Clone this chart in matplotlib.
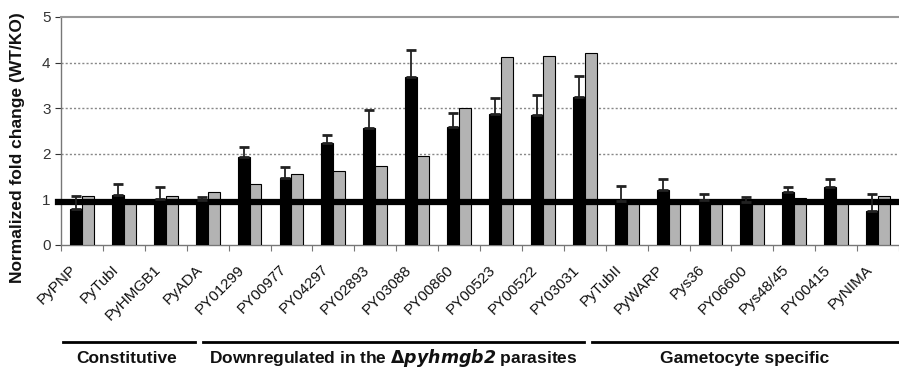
import matplotlib
matplotlib.use("Agg")
import matplotlib.pyplot as plt
import numpy as np

plt.rcParams['font.family'] = ['Liberation Sans', 'DejaVu Sans']

genes = ["PyPNP", "PyTubI", "PyHMGB1", "PyADA", "PY01299", "PY00977", "PY04297",
         "PY02893", "PY03088", "PY00860", "PY00523", "PY00522", "PY03031",
         "PyTubII", "PyWARP", "Pys36", "PY06600", "Pys48/45", "PY00415", "PyNIMA"]
black_vals = [0.80, 1.10, 1.01, 0.99, 1.94, 1.48, 2.23, 2.57, 3.68, 2.59, 2.88, 2.85, 3.25,
              0.96, 1.21, 0.98, 0.95, 1.16, 1.27, 0.75]
black_err = [0.27, 0.23, 0.27, 0.06, 0.22, 0.23, 0.19, 0.38, 0.60, 0.31, 0.34, 0.45, 0.46,
             0.33, 0.24, 0.14, 0.10, 0.12, 0.18, 0.37]
gray_vals = [1.08, 0.93, 1.07, 1.16, 1.33, 1.56, 1.62, 1.73, 1.96, 3.01, 4.12, 4.14, 4.21,
             0.93, 0.93, 0.93, 0.93, 1.02, 0.93, 1.08]
groups = ["Constitutive", "Downregulated in the $\\mathbf{\\Delta}$$\\bfit{pyhmgb2}$ parasites",
          "Gametocyte specific"]
group_spans = [(-0.45, 2.70), (2.89, 11.98), (12.17, 19.6)]
group_centers = [1.07, 7.42, 15.82]
baseline = 0.95

fig = plt.figure(figsize=(8.99, 3.69), dpi=100)
ax = fig.add_axes([61/899, 124/369, (899-61)/899, 228/369])

x = np.arange(len(genes))
w = 0.285
ax.bar(x - w/2, black_vals, w, color='black', edgecolor='black', linewidth=0.8, zorder=3)
ax.bar(x + w/2, gray_vals, w, color='#b3b3b3', edgecolor='black', linewidth=0.8, zorder=3)
ax.axhline(baseline, color='black', lw=4.5, zorder=4, clip_on=False, xmin=-0.004)
ax.errorbar(x - w/2, black_vals, yerr=[np.zeros(len(black_err)), black_err], fmt='none',
            ecolor='#222222', elinewidth=1.3, capsize=3.5, capthick=2, zorder=5)

ax.set_xlim(-0.5, 19.38)
ax.set_ylim(0, 5)
ax.set_yticks([0, 1, 2, 3, 4, 5])
ax.tick_params(axis='y', labelsize=11, colors='#333333', length=4, width=0.8, direction='out')
for g in [2, 3, 4]:
    ax.axhline(g, color='#888888', lw=1.0, ls=(0, (1.5, 1.5)), zorder=1)
ax.spines['right'].set_visible(False)
ax.spines['top'].set_color('#999999')
ax.spines['top'].set_linewidth(1.5)
for s in ['left', 'bottom']:
    ax.spines[s].set_color('#777777')
    ax.spines[s].set_linewidth(1.0)

ax.set_xticks(np.arange(-0.5, 20, 1.0))
ax.set_xticklabels([])
ax.tick_params(axis='x', length=4, width=0.8, colors='#777777', direction='out')
for xi, name in zip(x, genes):
    ax.text(xi - 0.18, -0.49, name, rotation=45, ha='right', va='center',
            rotation_mode='anchor', fontsize=11, color='#111111',
            transform=ax.transData, clip_on=False)

fig.text(18/899, 1 - 148/369, "Normalized fold change (WT/KO)", rotation=90,
         ha='center', va='center', fontsize=12.5, fontweight='bold', color='#111111')

# group lines
for (x0, x1), cx, label in zip(group_spans, group_centers, groups):
    ax.plot([x0, x1], [-2.13, -2.13], color='black', lw=2, clip_on=False)
    ax.text(cx, -2.48, label, ha='center', va='center',
            fontsize=12.5, fontweight='bold', color='#111111', clip_on=False)

fig.savefig("out.png", dpi=100)
